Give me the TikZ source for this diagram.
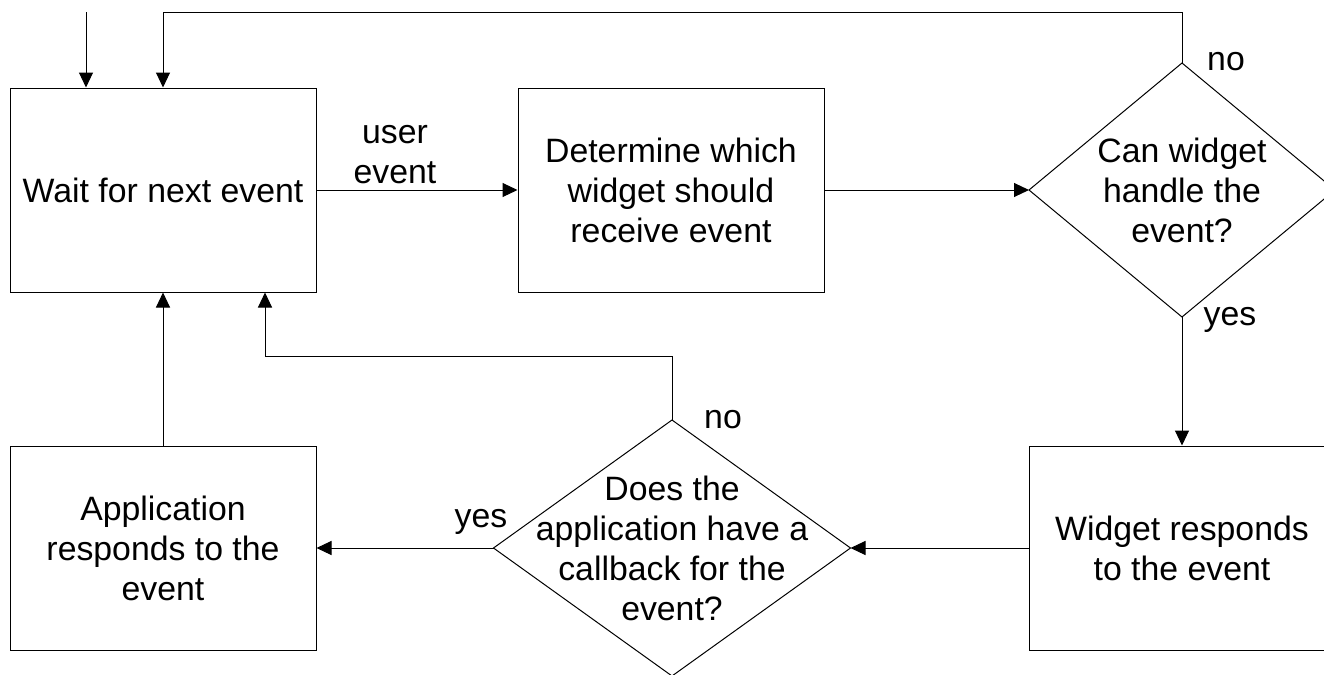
\documentclass[tikz,border=0pt]{standalone}
\usepackage{fontspec}
\setmainfont{Liberation Sans}
\usetikzlibrary{shapes.geometric,arrows.meta}
\begin{document}
\begin{tikzpicture}[x=0.5pt,y=-0.5pt,
  every node/.style={font=\fontsize{16.9}{20}\selectfont},
  box/.style={draw,line width=0.5pt,minimum width=153pt,minimum height=102pt,align=center,inner sep=0pt},
  dia/.style={draw,diamond,line width=0.5pt,inner sep=0pt,outer sep=0pt},
  lbl/.style={align=center,inner sep=0pt},
  arr/.style={line width=0.5pt,-{Triangle[length=7.5pt,width=7pt]}},
  conn/.style={line width=0.5pt}]
\useasboundingbox (0,0) rectangle (1324,675);
\clip (0,0) rectangle (1324,675);
% boxes
\node[box] (wait) at (163,190) {Wait for next event};
\node[box] (det) at (671,190) {Determine which\\widget should\\receive event};
\node[box] (widget) at (1182,548) {Widget responds\\to the event};
\node[box] (app) at (163,548) {Application\\responds to the\\event};
% diamonds
\node[dia,minimum width=153pt,minimum height=127pt,
      label={[lbl]center:Can widget\\handle the\\event?}] (d1) at (1182,190) {};
\node[dia,minimum width=178.5pt,minimum height=128pt,
      label={[lbl]center:Does the\\application have a\\callback for the\\event?}] (d2) at (672,548) {};
% free ends
\coordinate (start) at (86,12);
\coordinate (fb1) at (163,12);
\coordinate (fb2) at (265,356);
% connectors
\draw[arr] (start) -- (start |- wait.north);
\draw[arr] (d1.north) |- (fb1) -- (fb1 |- wait.north);
\draw[arr] (wait.east) -- (det.west);
\draw[arr] (det.east) -- (d1.west);
\draw[arr] (d1.south) -- (widget.north);
\draw[arr] (widget.west) -- (d2.east);
\draw[arr] (d2.west) -- (app.east);
\draw[arr] (d2.north) |- (fb2) -- (fb2 |- wait.south);
\draw[arr] (app.north) -- (wait.south);
% labels
\node[lbl] (ue) at (395,155) {user\\event};
\node[lbl] (no1) at (1226,62) {no};
\node[lbl] (yes1) at (1230,320) {yes};
\node[lbl] (no2) at (723,420) {no};
\node[lbl] (yes2) at (481,522) {yes};
\end{tikzpicture}
\end{document}
